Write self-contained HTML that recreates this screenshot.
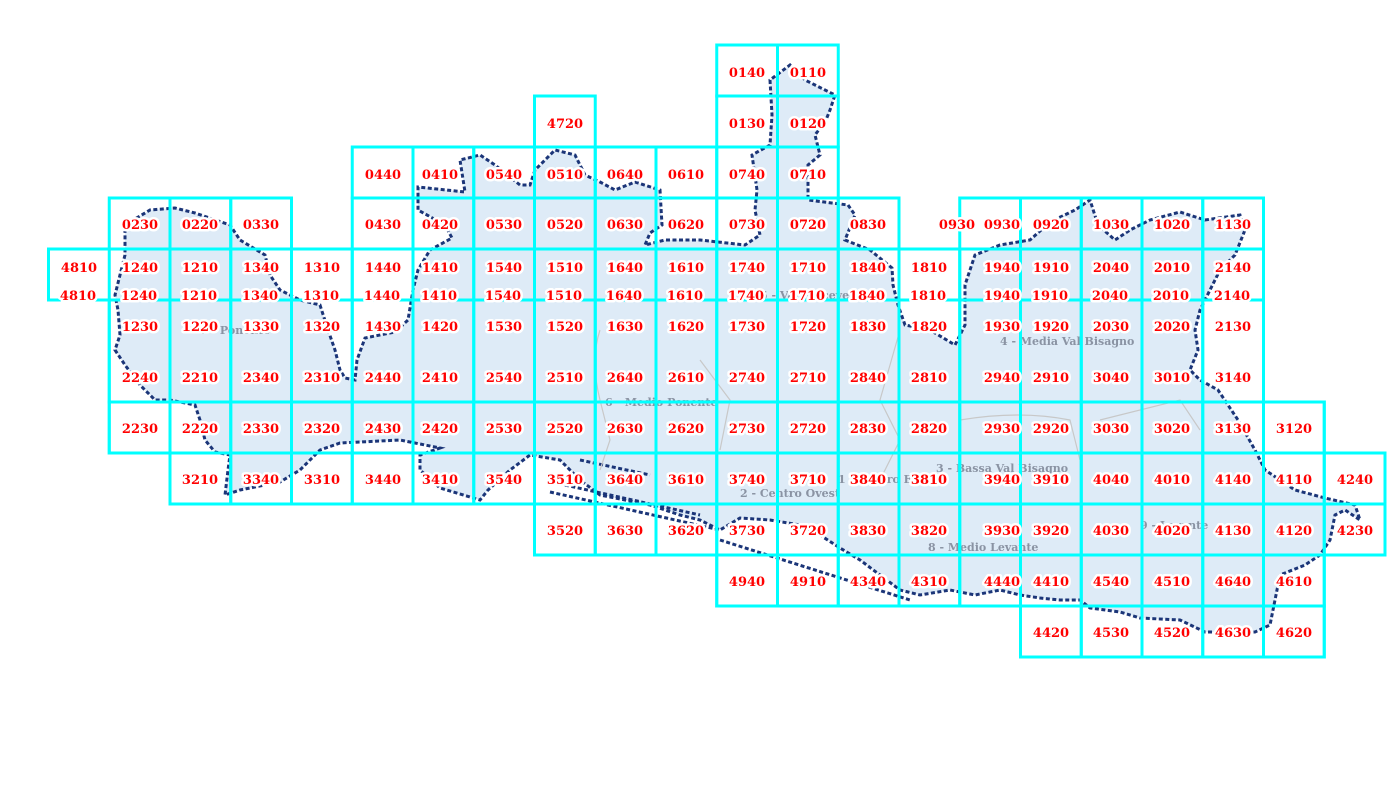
<!DOCTYPE html>
<html><head><meta charset="utf-8"><style>
html,body{margin:0;padding:0;background:#fff;width:1395px;height:796px;overflow:hidden}
svg{display:block}
.g rect{fill:none;stroke:#00ffff;stroke-width:3}
.l text{font-family:"DejaVu Serif","Liberation Serif",serif;font-weight:bold;font-size:13px;fill:#ff0000;stroke:#fff;stroke-width:5;stroke-linejoin:round;paint-order:stroke;text-anchor:middle}
.d text{font-family:"DejaVu Serif","Liberation Serif",serif;font-weight:bold;font-size:11px;fill:#8a93a3}
</style></head><body>
<svg width="1395" height="796" viewBox="0 0 1395 796" xmlns="http://www.w3.org/2000/svg">
<polygon fill="#deebf7" stroke="#1b3578" stroke-width="3" stroke-dasharray="4 2.5" points="125,225 150,210 175,208 195,213 230,225 240,240 265,255 270,275 280,290 300,300 320,305 328,330 335,350 340,370 345,378 355,380 357,360 365,338 395,332 408,320 413,290 418,270 430,250 452,238 445,225 418,210 418,187 465,192 460,160 480,155 495,165 520,185 530,185 535,170 555,150 575,155 585,175 600,182 615,190 635,182 660,190 662,225 650,233 645,245 665,240 700,240 745,245 760,235 755,210 757,190 752,155 770,145 772,115 770,80 790,65 805,80 835,95 830,110 826,120 815,135 820,155 808,165 808,200 848,205 855,215 845,240 870,250 892,268 893,285 898,305 905,325 930,330 955,345 965,325 965,285 975,255 1000,245 1030,240 1050,222 1075,210 1090,200 1098,225 1115,240 1130,230 1150,220 1180,212 1205,220 1240,215 1245,230 1235,255 1220,270 1210,290 1200,310 1195,330 1198,350 1190,370 1200,380 1218,390 1238,420 1255,450 1265,470 1295,490 1325,498 1355,505 1360,520 1345,510 1335,515 1330,540 1320,555 1305,565 1280,575 1275,600 1270,625 1255,632 1205,632 1180,620 1140,618 1120,612 1090,608 1080,600 1060,600 1040,598 1020,595 1000,590 975,595 950,590 920,595 900,590 880,575 860,560 840,548 820,535 800,525 770,520 740,518 720,530 700,520 680,515 650,505 600,495 580,480 560,460 530,455 510,470 488,490 480,500 440,488 420,470 420,455 440,448 400,440 340,443 320,450 300,470 280,482 240,490 225,495 228,470 230,455 215,452 205,440 200,420 195,405 170,400 155,400 140,385 125,365 115,350 120,335 118,310 115,295 120,275 125,255 125,240"/>
<g stroke="#1b3578" stroke-width="3" stroke-dasharray="4 2.5" fill="none">
<path d="M550,492 L720,530 M565,485 L700,515 M720,540 L910,600 M580,460 L650,475"/>
</g>
<g fill="none" stroke="#c8c8c8" stroke-width="1.2">
<path d="M600,330 Q590,360 600,400 L610,440 L600,470 M700,360 L730,400 L720,450 M900,330 L880,400 L900,440 L880,480 M960,420 Q1020,410 1070,420 L1080,460 M1100,420 L1180,400 L1200,430"/>
</g>
<g class="d">
<text x="1000" y="345">4 - Media Val Bisagno</text>
<text x="605" y="406">6 - Medio Ponente</text>
<text x="740" y="497">2 - Centro Ovest</text>
<text x="936" y="472">3 - Bassa Val Bisagno</text>
<text x="928" y="551">8 - Medio Levante</text>
<text x="838" y="483">1 - Centro Est</text>
<text x="1140" y="529">9 - Levante</text>
<text x="760" y="299">5 - Val Polcevera</text>
<text x="200" y="334">7 - Ponente</text>
</g>
<g class="g">
<rect x="716.75" y="45" width="60.75" height="51"/><rect x="777.5" y="45" width="60.75" height="51"/>
<rect x="534.5" y="96" width="60.75" height="51"/><rect x="716.75" y="96" width="60.75" height="51"/><rect x="777.5" y="96" width="60.75" height="51"/>
<rect x="352.25" y="147" width="60.75" height="51"/><rect x="413" y="147" width="60.75" height="51"/><rect x="473.75" y="147" width="60.75" height="51"/><rect x="534.5" y="147" width="60.75" height="51"/><rect x="595.25" y="147" width="60.75" height="51"/><rect x="656" y="147" width="60.75" height="51"/><rect x="716.75" y="147" width="60.75" height="51"/><rect x="777.5" y="147" width="60.75" height="51"/>
<rect x="109.25" y="198" width="60.75" height="51"/><rect x="170" y="198" width="60.75" height="51"/><rect x="230.75" y="198" width="60.75" height="51"/>
<rect x="352.25" y="198" width="60.75" height="51"/><rect x="413" y="198" width="60.75" height="51"/><rect x="473.75" y="198" width="60.75" height="51"/><rect x="534.5" y="198" width="60.75" height="51"/><rect x="595.25" y="198" width="60.75" height="51"/><rect x="656" y="198" width="60.75" height="51"/><rect x="716.75" y="198" width="60.75" height="51"/><rect x="777.5" y="198" width="60.75" height="51"/><rect x="838.25" y="198" width="60.75" height="51"/>
<rect x="959.75" y="198" width="60.75" height="51"/><rect x="1020.5" y="198" width="60.75" height="51"/><rect x="1081.25" y="198" width="60.75" height="51"/><rect x="1142" y="198" width="60.75" height="51"/><rect x="1202.75" y="198" width="60.75" height="51"/>
<rect x="48.5" y="249" width="1154.25" height="51"/>
<rect x="109.25" y="249" width="60.75" height="51"/><rect x="170" y="249" width="60.75" height="51"/><rect x="230.75" y="249" width="60.75" height="51"/><rect x="291.5" y="249" width="60.75" height="51"/><rect x="352.25" y="249" width="60.75" height="51"/><rect x="413" y="249" width="60.75" height="51"/><rect x="473.75" y="249" width="60.75" height="51"/><rect x="534.5" y="249" width="60.75" height="51"/><rect x="595.25" y="249" width="60.75" height="51"/><rect x="656" y="249" width="60.75" height="51"/><rect x="716.75" y="249" width="60.75" height="51"/><rect x="777.5" y="249" width="60.75" height="51"/><rect x="838.25" y="249" width="60.75" height="51"/><rect x="899" y="249" width="60.75" height="51"/><rect x="959.75" y="249" width="60.75" height="51"/><rect x="1020.5" y="249" width="60.75" height="51"/><rect x="1081.25" y="249" width="60.75" height="51"/><rect x="1142" y="249" width="60.75" height="51"/><rect x="1202.75" y="249" width="60.75" height="51"/>
<rect x="109.25" y="300" width="1154.25" height="102"/>
<rect x="109.25" y="300" width="60.75" height="153"/><rect x="170" y="300" width="60.75" height="153"/><rect x="230.75" y="300" width="60.75" height="153"/><rect x="291.5" y="300" width="60.75" height="153"/><rect x="352.25" y="300" width="60.75" height="153"/><rect x="413" y="300" width="60.75" height="153"/><rect x="473.75" y="300" width="60.75" height="153"/><rect x="534.5" y="300" width="60.75" height="255"/><rect x="595.25" y="300" width="60.75" height="255"/><rect x="656" y="300" width="60.75" height="255"/><rect x="716.75" y="300" width="60.75" height="306"/><rect x="777.5" y="300" width="60.75" height="306"/><rect x="838.25" y="300" width="60.75" height="306"/><rect x="899" y="300" width="60.75" height="306"/><rect x="959.75" y="300" width="60.75" height="306"/><rect x="1020.5" y="300" width="60.75" height="357"/><rect x="1081.25" y="300" width="60.75" height="357"/><rect x="1142" y="300" width="60.75" height="357"/><rect x="1202.75" y="300" width="60.75" height="357"/>
<rect x="109.25" y="402" width="1215" height="51"/>
<rect x="170" y="453" width="1215" height="51"/>
<rect x="170" y="453" width="60.75" height="51"/><rect x="230.75" y="453" width="60.75" height="51"/><rect x="291.5" y="453" width="60.75" height="51"/><rect x="352.25" y="453" width="60.75" height="51"/><rect x="413" y="453" width="60.75" height="51"/><rect x="473.75" y="453" width="60.75" height="51"/>
<rect x="534.5" y="504" width="850.5" height="51"/>
<rect x="716.75" y="555" width="607.5" height="51"/>
<rect x="1263.5" y="402" width="60.75" height="255"/><rect x="1324.25" y="453" width="60.75" height="102"/>
<rect x="1020.5" y="606" width="303.75" height="51"/>
</g>
<g class="l">
<text x="747" y="77">0140</text><text x="808" y="77">0110</text>
<text x="565" y="128">4720</text><text x="747" y="128">0130</text><text x="808" y="128">0120</text>
<text x="383" y="179">0440</text><text x="440" y="179">0410</text><text x="504" y="179">0540</text><text x="565" y="179">0510</text><text x="625" y="179">0640</text><text x="686" y="179">0610</text><text x="747" y="179">0740</text><text x="808" y="179">0710</text>
<text x="140" y="229">0230</text><text x="200" y="229">0220</text><text x="261" y="229">0330</text><text x="383" y="229">0430</text><text x="440" y="229">0420</text><text x="504" y="229">0530</text><text x="565" y="229">0520</text><text x="625" y="229">0630</text><text x="686" y="229">0620</text><text x="747" y="229">0730</text><text x="808" y="229">0720</text><text x="868" y="229">0830</text><text x="957" y="229">0930</text><text x="1002" y="229">0930</text><text x="1051" y="229">0920</text><text x="1111" y="229">1030</text><text x="1172" y="229">1020</text><text x="1233" y="229">1130</text>
<text x="79" y="272">4810</text><text x="140" y="272">1240</text><text x="200" y="272">1210</text><text x="261" y="272">1340</text><text x="322" y="272">1310</text><text x="383" y="272">1440</text><text x="440" y="272">1410</text><text x="504" y="272">1540</text><text x="565" y="272">1510</text><text x="625" y="272">1640</text><text x="686" y="272">1610</text><text x="747" y="272">1740</text><text x="808" y="272">1710</text><text x="868" y="272">1840</text><text x="929" y="272">1810</text><text x="1002" y="272">1940</text><text x="1051" y="272">1910</text><text x="1111" y="272">2040</text><text x="1172" y="272">2010</text><text x="1233" y="272">2140</text>
<text x="78" y="300">4810</text><text x="139" y="300">1240</text><text x="199" y="300">1210</text><text x="260" y="300">1340</text><text x="321" y="300">1310</text><text x="382" y="300">1440</text><text x="439" y="300">1410</text><text x="503" y="300">1540</text><text x="564" y="300">1510</text><text x="624" y="300">1640</text><text x="685" y="300">1610</text><text x="746" y="300">1740</text><text x="807" y="300">1710</text><text x="867" y="300">1840</text><text x="928" y="300">1810</text><text x="1002" y="300">1940</text><text x="1050" y="300">1910</text><text x="1110" y="300">2040</text><text x="1171" y="300">2010</text><text x="1232" y="300">2140</text>
<text x="140" y="331">1230</text><text x="200" y="331">1220</text><text x="261" y="331">1330</text><text x="322" y="331">1320</text><text x="383" y="331">1430</text><text x="440" y="331">1420</text><text x="504" y="331">1530</text><text x="565" y="331">1520</text><text x="625" y="331">1630</text><text x="686" y="331">1620</text><text x="747" y="331">1730</text><text x="808" y="331">1720</text><text x="868" y="331">1830</text><text x="929" y="331">1820</text><text x="1002" y="331">1930</text><text x="1051" y="331">1920</text><text x="1111" y="331">2030</text><text x="1172" y="331">2020</text><text x="1233" y="331">2130</text>
<text x="140" y="382">2240</text><text x="200" y="382">2210</text><text x="261" y="382">2340</text><text x="322" y="382">2310</text><text x="383" y="382">2440</text><text x="440" y="382">2410</text><text x="504" y="382">2540</text><text x="565" y="382">2510</text><text x="625" y="382">2640</text><text x="686" y="382">2610</text><text x="747" y="382">2740</text><text x="808" y="382">2710</text><text x="868" y="382">2840</text><text x="929" y="382">2810</text><text x="1002" y="382">2940</text><text x="1051" y="382">2910</text><text x="1111" y="382">3040</text><text x="1172" y="382">3010</text><text x="1233" y="382">3140</text>
<text x="140" y="433">2230</text><text x="200" y="433">2220</text><text x="261" y="433">2330</text><text x="322" y="433">2320</text><text x="383" y="433">2430</text><text x="440" y="433">2420</text><text x="504" y="433">2530</text><text x="565" y="433">2520</text><text x="625" y="433">2630</text><text x="686" y="433">2620</text><text x="747" y="433">2730</text><text x="808" y="433">2720</text><text x="868" y="433">2830</text><text x="929" y="433">2820</text><text x="1002" y="433">2930</text><text x="1051" y="433">2920</text><text x="1111" y="433">3030</text><text x="1172" y="433">3020</text><text x="1233" y="433">3130</text><text x="1294" y="433">3120</text>
<text x="200" y="484">3210</text><text x="261" y="484">3340</text><text x="322" y="484">3310</text><text x="383" y="484">3440</text><text x="440" y="484">3410</text><text x="504" y="484">3540</text><text x="565" y="484">3510</text><text x="625" y="484">3640</text><text x="686" y="484">3610</text><text x="747" y="484">3740</text><text x="808" y="484">3710</text><text x="868" y="484">3840</text><text x="929" y="484">3810</text><text x="1002" y="484">3940</text><text x="1051" y="484">3910</text><text x="1111" y="484">4040</text><text x="1172" y="484">4010</text><text x="1233" y="484">4140</text><text x="1294" y="484">4110</text><text x="1355" y="484">4240</text>
<text x="565" y="535">3520</text><text x="625" y="535">3630</text><text x="686" y="535">3620</text><text x="747" y="535">3730</text><text x="808" y="535">3720</text><text x="868" y="535">3830</text><text x="929" y="535">3820</text><text x="1002" y="535">3930</text><text x="1051" y="535">3920</text><text x="1111" y="535">4030</text><text x="1172" y="535">4020</text><text x="1233" y="535">4130</text><text x="1294" y="535">4120</text><text x="1355" y="535">4230</text>
<text x="747" y="586">4940</text><text x="808" y="586">4910</text><text x="868" y="586">4340</text><text x="929" y="586">4310</text><text x="1002" y="586">4440</text><text x="1051" y="586">4410</text><text x="1111" y="586">4540</text><text x="1172" y="586">4510</text><text x="1233" y="586">4640</text><text x="1294" y="586">4610</text>
<text x="1051" y="637">4420</text><text x="1111" y="637">4530</text><text x="1172" y="637">4520</text><text x="1233" y="637">4630</text><text x="1294" y="637">4620</text>
</g>
</svg>
</body></html>
